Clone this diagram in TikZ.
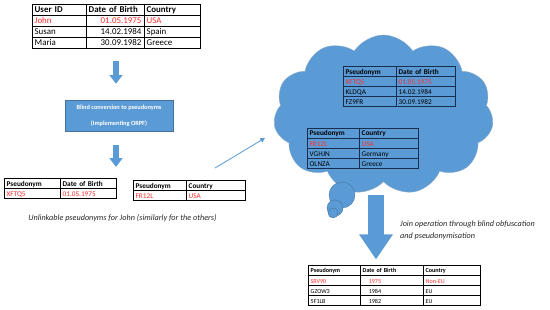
\documentclass[tikz,border=0pt]{standalone}
\usepackage{fontspec}
\setmainfont{Carlito}
\usetikzlibrary{arrows.meta,positioning,calc,matrix,shapes.symbols}
\definecolor{BoxBlue}{RGB}{91,155,213}
\definecolor{EdgeBlue}{RGB}{65,113,156}
\definecolor{HiRed}{RGB}{255,45,45}
\definecolor{GridNavy}{RGB}{25,45,80}

\tikzset{
  tbl/.style={matrix of nodes, column sep=-\pgflinewidth, row sep=-\pgflinewidth,
    nodes={draw, inner xsep=0.08cm, inner ysep=0pt, align=left, anchor=center,
      text height=1.45ex, text depth=.35ex}},
  hl/.style={text=HiRed},
  blockarr/.style={draw=BoxBlue, line width=0.18cm, -{Triangle[width=0.38cm, length=0.26cm]}},
  bubble/.style={circle, fill=BoxBlue, draw=EdgeBlue, line width=0.3pt, inner sep=0pt},
  note/.style={font=\fontsize{7}{10}\selectfont\itshape, text=black!85},
}

\begin{document}
\begin{tikzpicture}[x=0.03cm, y=-0.03cm]
\useasboundingbox (0,0) rectangle (550,310);

% original records
\matrix[tbl, nodes={font=\fontsize{7.6}{9}\selectfont, minimum height=0.33cm},
  column 1/.style={nodes={text width=1.46cm}},
  column 2/.style={nodes={text width=1.58cm}},
  column 3/.style={nodes={text width=1.52cm}}] (users) at (116,26) {
  \textbf{User ID} & \textbf{Date of Birth} & \textbf{Country} \\
  |[hl]| John & |[hl]| \hfill 01.05.1975 & |[hl]| USA \\
  Susan & \hfill 14.02.1984 & Spain \\
  Maria & \hfill 30.09.1982 & Greece \\
};

\node[fill=BoxBlue, draw=EdgeBlue, line width=0.4pt, minimum width=3.24cm, minimum height=0.93cm,
  text=white, align=center, font=\fontsize{5.4}{13.5}\selectfont\bfseries] (blind) at (119,115.5)
  {Blind conversion to pseudonyms\\(Implementing ORPF)};

% unlinkable pseudonyms for John
\matrix[tbl, nodes={font=\fontsize{6.2}{8}\selectfont, minimum height=0.30cm},
  column 1/.style={nodes={text width=1.52cm}},
  column 2/.style={nodes={text width=1.52cm}}] (dobpseud) at (60,188) {
  \textbf{Pseudonym} & \textbf{Date of Birth} \\
  |[hl]| XFTQ5 & |[hl]| 01.05.1975 \\
};
\matrix[tbl, nodes={font=\fontsize{6.2}{8}\selectfont, minimum height=0.27cm},
  column 1/.style={nodes={text width=1.43cm}},
  column 2/.style={nodes={text width=1.61cm}}] (ctrpseud) at (189,190) {
  \textbf{Pseudonym} & \textbf{Country} \\
  |[hl]| FR12L & |[hl]| USA \\
};
\node[note] (unlink) at (122.5,218) {Unlinkable pseudonyms for John (similarly for the others)};

% the cloud
\node[cloud, cloud puffs=11, cloud puff arc=115, aspect=1.45, fill=BoxBlue, draw=EdgeBlue!60,
  line width=0.3pt, minimum width=6.6cm, minimum height=4.8cm] (cloud) at (383.5,115) {};
\node[bubble, minimum size=0.78cm] (bub1) at (342,195) {};
\node[bubble, minimum size=0.48cm] (bub2) at (335,208) {};
\node[bubble, minimum size=0.30cm] (bub3) at (333,213) {};

\matrix[tbl, draw=none, nodes={draw=GridNavy, font=\fontsize{6.2}{8}\selectfont, minimum height=0.28cm},
  column 1/.style={nodes={text width=1.43cm}},
  column 2/.style={nodes={text width=1.61cm}}] (dobpool) at (399,86.5) {
  \textbf{Pseudonym} & \textbf{Date of Birth} \\
  |[hl]| XFTQ5 & |[hl]| 01.05.1975 \\
  KLDQA & 14.02.1984 \\
  FZ9FR & 30.09.1982 \\
};
\matrix[tbl, nodes={draw=GridNavy, font=\fontsize{6.2}{8}\selectfont, minimum height=0.285cm},
  column 1/.style={nodes={text width=1.40cm}},
  column 2/.style={nodes={text width=1.61cm}}] (ctrpool) at (362.5,148) {
  \textbf{Pseudonym} & \textbf{Country} \\
  |[hl]| FR12L & |[hl]| USA \\
  VGHJN & Germany \\
  OLNZA & Greece \\
};

% joined result
\matrix[tbl, nodes={font=\fontsize{5.2}{7}\selectfont, minimum height=0.255cm},
  column 1/.style={nodes={text width=1.40cm}},
  column 2/.style={nodes={text width=1.73cm}},
  column 3/.style={nodes={text width=1.55cm}}] (joined) at (394,285) {
  \textbf{Pseudonym} & \textbf{Date of Birth} & \textbf{Country} \\
  |[hl]| SRV90 & |[hl]| \quad 1975 & |[hl]| Non-EU \\
  GZOW3 & \quad 1984 & EU \\
  5F1LB & \quad 1982 & EU \\
};
\node[note, anchor=west, align=left] (joinnote) at (396,230)
  {Join operation through blind obfuscation\\and pseudonymisation};

\coordinate (linkfrom) at (215,168);
\coordinate (linkto) at (265,138);

\draw[blockarr, shorten <=0.27cm, shorten >=0.48cm] (users.south) -- (users.south |- blind.north);
\draw[blockarr, shorten <=0.42cm, shorten >=0.2cm] (blind.south -| users.south) -- (dobpseud.north -| users.south);
\draw[BoxBlue, line width=0.7pt, -{Triangle[width=4pt, length=4pt]}] (linkfrom) -- (linkto);
\draw[BoxBlue, line width=0.48cm, -{Triangle[width=0.96cm, length=0.75cm]}]
  ($(cloud.south -| joined.north)+(-18,13)$) -- ($(joined.north)+(-18,-1)$);
\end{tikzpicture}
\end{document}
